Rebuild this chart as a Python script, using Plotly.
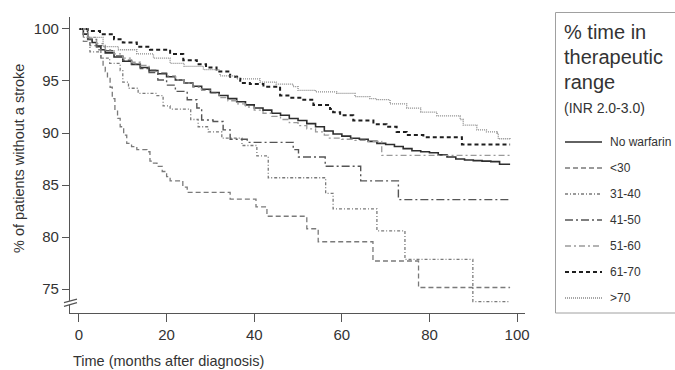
import plotly.graph_objects as go

# ---------------- data ----------------
series_names = ["No warfarin", "<30", "31-40", "41-50", "51-60", "61-70", ">70"]

t_nowarf = [0, 1, 2, 3, 4, 5, 6, 8, 10, 12, 14, 16, 18, 20, 22, 24, 26, 28, 30, 32, 34, 36, 38, 40,
            42, 44, 46, 48, 50, 52, 54, 56, 58, 60, 62, 64, 66, 68, 70, 72, 74, 76, 78, 80, 82, 84,
            86, 88, 90, 92, 94, 96, 98.4]
s_nowarf = [100, 99.5, 99.0, 98.7, 98.3, 98.0, 97.7, 97.3, 96.9, 96.6, 96.3, 96.0, 95.7, 95.4, 95.1,
            94.8, 94.5, 94.2, 93.9, 93.6, 93.3, 93.0, 92.7, 92.4, 92.2, 91.9, 91.7, 91.4, 91.2, 90.9,
            90.6, 90.2, 89.9, 89.7, 89.5, 89.4, 89.2, 89.0, 88.9, 88.7, 88.5, 88.3, 88.2, 88.1, 87.9,
            87.7, 87.5, 87.4, 87.35, 87.3, 87.25, 87.0, 87.0]

t_lt30 = [0, 1, 2.5, 4.1, 5.0, 5.5, 6.0, 6.5, 7.1, 7.6, 8.2, 8.8, 9.4, 10.2, 10.9, 12.0, 13.2, 15.5,
          16.2, 17.0, 17.8, 19.0, 20.0, 20.8, 23.7, 24.7, 34.5, 40.4, 42.9, 52.0, 54.6, 67.1, 77.5, 98.4]
s_lt30 = [100, 98.8, 98.4, 98.0, 97.2, 96.4, 95.9, 95.4, 94.4, 93.3, 92.2, 91.4, 90.6, 89.8, 89.0,
          88.7, 88.4, 88.2, 87.3, 87.1, 86.8, 86.3, 85.8, 85.4, 84.8, 84.3, 83.65, 82.9, 82.0, 80.8,
          79.55, 77.7, 75.15, 75.15]

t_31_40 = [0, 1, 2.5, 5, 7, 9.4, 10, 11.3, 13.5, 17.8, 19.2, 20.8, 25.5, 27.2, 29.5, 32.6, 37.2,
           40.6, 43.2, 56.3, 58, 68, 74.4, 89.9, 98.4]
s_31_40 = [100, 99.2, 97.8, 97.2, 96.7, 96.0, 94.9, 94.3, 93.8, 93.6, 92.6, 92.3, 91.3, 90.6, 90.1,
           89.5, 88.8, 87.8, 85.7, 84.2, 82.7, 80.6, 77.85, 73.8, 73.8]

t_41_50 = [0, 2, 4, 6, 8, 10, 12, 14, 16, 18, 20, 22, 24.7, 26.9, 28, 30.6, 32.9, 34.5, 38.4, 48.9,
           50.1, 56.2, 64.3, 72.9, 98.4]
s_41_50 = [100, 99.0, 98.4, 97.9, 97.4, 97.0, 96.6, 96.2, 95.8, 95.1, 94.6, 94.0, 93.2, 92.4, 91.25,
           91.1, 90.3, 89.4, 89.1, 88.4, 87.7, 86.8, 85.4, 83.6, 83.6]

t_51_60 = [0, 2, 4, 6, 8, 10, 12, 14, 16, 18, 20, 22, 24, 26, 28, 30, 32, 34, 36, 38, 40, 42, 44,
           46, 48, 50, 52, 54, 56, 57, 60, 63, 66, 69.1, 98.4]
s_51_60 = [100, 99.2, 98.6, 98.0, 97.6, 97.2, 96.8, 96.5, 96.1, 95.8, 95.5, 95.1, 94.8, 94.4, 94.1,
           93.8, 93.4, 93.1, 92.8, 92.5, 92.2, 91.9, 91.6, 91.3, 91.0, 90.7, 90.4, 90.1, 89.8, 89.5,
           89.4, 89.3, 89.2, 87.85, 87.85]

t_61_70 = [0, 2, 4.8, 8, 10, 13.2, 16.2, 20.8, 23.8, 26.9, 29, 31.4, 34.5, 36.8, 39, 42.1, 45.9,
           48.2, 51.2, 53.5, 57.3, 58, 59.6, 62.6, 67.2, 70.2, 72.5, 74.8, 78.6, 87.4, 98.4]
s_61_70 = [100, 99.8, 99.5, 99.0, 98.7, 98.3, 98.0, 97.6, 97.0, 96.6, 96.3, 95.9, 95.4, 94.8, 94.7,
           94.45, 93.6, 93.4, 93.2, 92.7, 92.3, 92.0, 91.7, 91.2, 90.85, 90.6, 90.1, 89.8, 89.6,
           88.9, 88.9]

t_gt70 = [0, 2, 5.5, 9, 13.2, 17, 20.8, 24, 28.4, 32.2, 36, 41.3, 45, 48.9, 50, 54, 58.8, 63, 66.4,
          68, 71, 74.8, 78, 81.7, 87, 87.7, 90.8, 93, 95.4, 95.7, 98.4]
s_gt70 = [100, 99.2, 98.3, 98.0, 97.6, 97.2, 96.7, 96.4, 96.1, 95.5, 95.2, 94.9, 94.7, 94.45, 94.1,
          93.95, 93.8, 93.5, 93.3, 93.2, 92.8, 92.4, 92.0, 91.65, 91.3, 90.75, 90.3, 90.1, 90.0,
          89.45, 89.4]

x_ticks = [0, 20, 40, 60, 80, 100]
y_ticks = [75, 80, 85, 90, 95, 100]

# ---------------- styling ----------------
FONT = "Liberation Sans, Arial, sans-serif"
TXT = "#333333"
styles = [
    dict(color="#2e2e2e", width=1.6, dash="solid"),            # No warfarin
    dict(color="#7a7a7a", width=1.3, dash="5px,3px"),          # <30
    dict(color="#7a7a7a", width=1.3, dash="3px,2px,1px,2px"),  # 31-40
    dict(color="#555555", width=1.4, dash="8px,3px,2px,3px"),  # 41-50
    dict(color="#9a9a9a", width=1.3, dash="6px,3px,2px,3px"),  # 51-60
    dict(color="#1e1e1e", width=2.0, dash="4px,3px"),          # 61-70
    dict(color="#8a8a8a", width=1.3, dash="1px,1px"),          # >70
]
data = [(t_nowarf, s_nowarf), (t_lt30, s_lt30), (t_31_40, s_31_40), (t_41_50, s_41_50),
        (t_51_60, s_51_60), (t_61_70, s_61_70), (t_gt70, s_gt70)]

W, H = 675, 370
L, R, T, B = 70, 525, 17, 313  # plot area in pixels


def px(x):
    return (x - L) / (R - L)


def py(y):
    return (B - y) / (B - T)


fig = go.Figure()
for name, (tt, ss), st in zip(series_names, data, styles):
    fig.add_trace(go.Scatter(x=tt, y=ss, mode="lines", name=name, line_shape="hv",
                             line=st, showlegend=False))

shapes = []
annotations = []

# y-axis break marks
shapes.append(dict(type="path", xref="paper", yref="paper",
                   path=f"M {px(63)},{py(302.5)} L {px(78)},{py(298.5)} L {px(78)},{py(302.5)} L {px(63)},{py(306.5)} Z",
                   fillcolor="white", line=dict(width=0), layer="above"))
for y0 in (302.7, 306.3):
    shapes.append(dict(type="line", xref="paper", yref="paper",
                       x0=px(64), y0=py(y0), x1=px(77), y1=py(y0 - 3.6),
                       line=dict(color="#555555", width=1.2), layer="above"))

# legend box
shapes.append(dict(type="rect", xref="paper", yref="paper",
                   x0=px(555.5), y0=py(313), x1=px(690), y1=py(12.5),
                   line=dict(color="#a0a0a0", width=1), fillcolor="rgba(0,0,0,0)"))
for i, line in enumerate(["% time in", "therapeutic", "range"]):
    annotations.append(dict(xref="paper", yref="paper", x=px(562), y=py(32 + 25 * i),
                            xanchor="left", yanchor="middle", showarrow=False, text=line,
                            font=dict(family=FONT, size=20, color=TXT)))
annotations.append(dict(xref="paper", yref="paper", x=px(562), y=py(108),
                        xanchor="left", yanchor="middle", showarrow=False, text="(INR 2.0-3.0)",
                        font=dict(family=FONT, size=14, color=TXT)))
for i, (name, st) in enumerate(zip(series_names, styles)):
    yy = 142 + 26 * i
    shapes.append(dict(type="line", xref="paper", yref="paper",
                       x0=px(565), x1=px(602), y0=py(yy), y1=py(yy),
                       line=dict(color=st["color"], width=st["width"], dash=st["dash"])))
    annotations.append(dict(xref="paper", yref="paper", x=px(608), y=py(yy),
                            xanchor="left", yanchor="middle", showarrow=False, text=name,
                            font=dict(family=FONT, size=12, color=TXT)))

# axis titles
annotations.append(dict(xref="paper", yref="paper", x=px(71), y=py(361),
                        xanchor="left", yanchor="middle", showarrow=False,
                        text="Time (months after diagnosis)",
                        font=dict(family=FONT, size=14.5, color=TXT)))
annotations.append(dict(xref="paper", yref="paper", x=px(19), y=py(159),
                        xanchor="center", yanchor="middle", showarrow=False, textangle=-90,
                        text="% of patients without a stroke",
                        font=dict(family=FONT, size=14.5, color=TXT)))

fig.update_layout(
    width=W, height=H,
    margin=dict(l=L, r=W - R, t=T, b=H - B, pad=0),
    paper_bgcolor="white", plot_bgcolor="white",
    font=dict(family=FONT, size=15, color=TXT),
    showlegend=False,
    shapes=shapes, annotations=annotations,
    xaxis=dict(range=[-2.05, 101.8], tickvals=x_ticks, ticktext=[str(v) for v in x_ticks],
               showgrid=False, zeroline=False, showline=True, linecolor="#555555", linewidth=1.3,
               ticks="outside", ticklen=8, tickwidth=1.2, tickcolor="#555555",
               tickfont=dict(family=FONT, size=15, color=TXT)),
    yaxis=dict(range=[72.7, 101.15], tickvals=y_ticks, ticktext=[str(v) for v in y_ticks],
               showgrid=False, zeroline=False, showline=True, linecolor="#555555", linewidth=1.3,
               ticks="outside", ticklen=7, tickwidth=1.2, tickcolor="#555555",
               tickfont=dict(family=FONT, size=15, color=TXT)),
)

fig.write_html("out.html", config={"displayModeBar": False},
               post_script="document.body.style.margin='0px';document.body.style.padding='0px';")
